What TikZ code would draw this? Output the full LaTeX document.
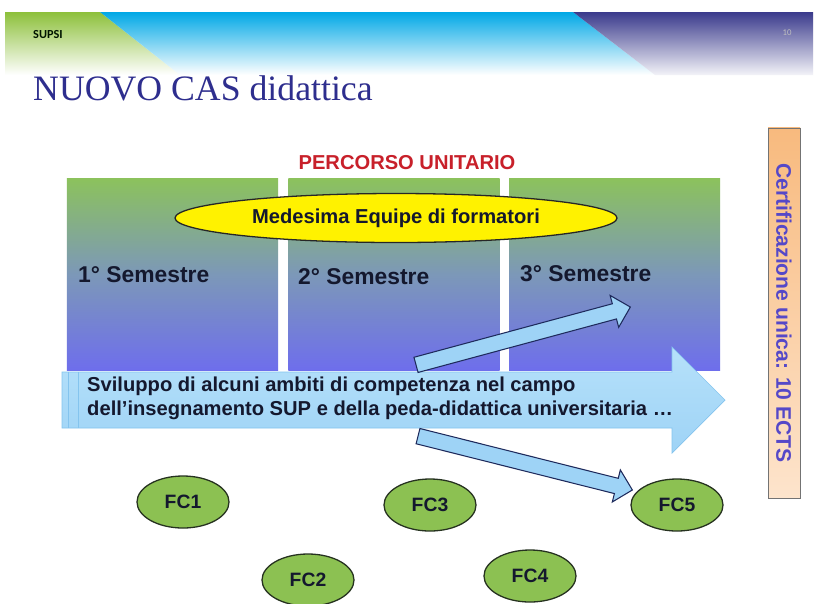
\documentclass[tikz,border=0pt]{standalone}
\usepackage{fontspec}
\setmainfont{Liberation Serif}
\setsansfont{Liberation Sans}
\newfontfamily\carlito{Carlito}
\usepackage{xcolor}
\usepackage{tikz}
\usetikzlibrary{shapes.geometric, shapes.arrows, positioning}
\definecolor{supsigreen}{HTML}{8DC03B}
\definecolor{supsiblue}{HTML}{00A8E6}
\definecolor{supsipurple}{HTML}{3A3A8C}
\definecolor{titleblue}{HTML}{2E2E8E}
\definecolor{semgreen}{HTML}{8CC25C}
\definecolor{semmid}{HTML}{7C98B8}
\definecolor{semviolet}{HTML}{6E6EEC}
\definecolor{arrowblue}{HTML}{9ED3F6}
\definecolor{arrowlight}{HTML}{B6E1FA}
\definecolor{arrowedge}{HTML}{84C4EE}
\definecolor{arrowdark}{HTML}{1E2A5C}
\definecolor{fcgreen}{HTML}{8CC152}
\definecolor{fcedge}{HTML}{263220}
\definecolor{percred}{HTML}{C8202A}
\definecolor{ectsblue}{HTML}{5548C8}
\definecolor{ectspeach}{HTML}{FDE4CC}
\definecolor{ectsorange}{HTML}{F8BA7E}
\definecolor{textnavy}{HTML}{14182E}

\begin{document}
\begin{tikzpicture}[x=0.03cm, y=-0.03cm,
    semester/.style={rectangle, inner sep=0pt, minimum width=6.33cm, minimum height=5.76cm,
      top color=semgreen, bottom color=semviolet, middle color=semmid},
    semlabel/.style={anchor=west, inner sep=0pt, text=textnavy,
      font=\sffamily\bfseries\fontsize{19.5}{22}\selectfont},
    blockarrow/.style={single arrow, anchor=tail, draw=arrowdark, fill=arrowblue,
      line width=0.9pt, inner sep=0.22cm, minimum width=0.96cm, single arrow head extend=0.26cm},
    fcnode/.style={ellipse, draw=fcedge, fill=fcgreen, line width=1.1pt, inner sep=0pt,
      minimum width=2.76cm, minimum height=1.56cm, text=textnavy,
      font=\sffamily\bfseries\fontsize{16.5}{18}\selectfont}]
  \useasboundingbox (0,0) rectangle (814,603);
  \fill[white] (0,0) rectangle (814,603);

  % banner
  \shade[top color=supsigreen, bottom color=white] (5,12) -- (100,12) -- (180,75) -- (5,75) -- cycle;
  \shade[top color=supsiblue, bottom color=white] (100,12) -- (573,12) -- (655,75) -- (180,75) -- cycle;
  \shade[top color=supsipurple, bottom color=supsipurple!6] (573,12) -- (813,12) -- (813,75) -- (655,75) -- cycle;
  \node[anchor=west, inner sep=0pt, text=black!80!green!40!black, font=\carlito\bfseries\fontsize{10.5}{12}\selectfont] (logo) at (33,35) {SUPSI};
  \node[inner sep=0pt, text=black!25, font=\carlito\fontsize{7.5}{8}\selectfont] (pagenum) at (787,33) {10};
  \node[anchor=base west, inner sep=0pt, text=titleblue, font=\fontsize{30.5}{34}\selectfont] (title) at (33,100) {NUOVO CAS didattica};

  % semesters
  \node[inner sep=0pt, text=percred, font=\sffamily\bfseries\fontsize{17.2}{20}\selectfont] (percorso) at (407,163) {PERCORSO UNITARIO};
  \node[semester] (sem1) at (172.5,274) {};
  \node[semester] (sem2) at (394,274) {};
  \node[semester] (sem3) at (614.5,274) {};
  \node[ellipse, draw=black!85, fill=yellow, line width=1.1pt, inner sep=0pt,
    minimum width=13.26cm, minimum height=1.47cm, text=textnavy,
    font=\sffamily\bfseries\fontsize{17.2}{20}\selectfont] (equipe) at (396,218) {Medesima Equipe di formatori};
  \node[semlabel] (lbl1) at (78,275) {1° Semestre};
  \node[semlabel] (lbl2) at (298,277) {2° Semestre};
  \node[semlabel] (lbl3) at (520,274) {3° Semestre};

  % big arrow
  \shade[top color=arrowlight, bottom color=arrowblue, draw=arrowedge, line width=0.6pt]
    (62,372) -- (672,372) -- (672,347) -- (725,400) -- (672,453) -- (672,428) -- (62,428) -- cycle;
  \draw[arrowedge, line width=0.6pt] (68,372) -- (68,428);
  \draw[arrowedge, line width=0.6pt] (78,372) -- (78,428);
  \node[anchor=west, align=left, inner sep=0pt, text=textnavy,
    font=\sffamily\bfseries\fontsize{17.2}{20.5}\selectfont] (sviluppo) at (87,398)
    {Sviluppo di alcuni ambiti di competenza nel campo\\dell’insegnamento SUP e della peda-didattica universitaria …};

  % small arrows
  \node[blockarrow, minimum height=6.66cm, rotate=15.1] (upArrow) at (415.5,365) {};
  \node[blockarrow, minimum height=6.63cm, rotate=-14.1] (downArrow) at (417.5,436) {};

  % certification
  \node[rectangle, draw=black!55, line width=0.6pt, rotate=-90, inner sep=0pt,
    minimum width=11.1cm, minimum height=0.96cm, top color=ectsorange, bottom color=ectspeach,
    text=ectsblue, font=\sffamily\bfseries\fontsize{18}{20}\selectfont] (ects) at (784,313)
    {Certificazione unica: 10 ECTS};

  % courses
  \node[fcnode] (fc1) at (183,502) {FC1};
  \node[fcnode] (fc2) at (308,580) {FC2};
  \node[fcnode] (fc3) at (430,505) {FC3};
  \node[fcnode] (fc4) at (530,576) {FC4};
  \node[fcnode] (fc5) at (677,505) {FC5};
\end{tikzpicture}
\end{document}
